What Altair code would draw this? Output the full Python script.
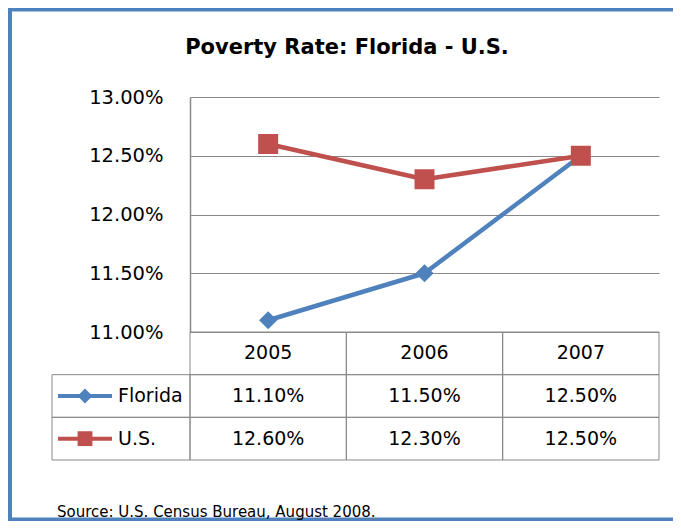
import altair as alt
import pandas as pd

# ---- data ----
years = ["2005", "2006", "2007"]
florida = [0.111, 0.115, 0.125]
us = [0.126, 0.123, 0.125]
series_names = ["Florida", "U.S."]
series_colors = ["#4F81BD", "#C0504D"]
series_shapes = ["diamond", "square"]
y_ticks = [0.11, 0.115, 0.12, 0.125, 0.13]
title_text = "Poverty Rate: Florida - U.S."
source_text = "Source: U.S. Census Bureau, August 2008."

FONT = "DejaVu Sans"
GRID = "#898989"
BORDER = "#4F81BD"

rows = []
for name, vals in zip(series_names, [florida, us]):
    for yr, v in zip(years, vals):
        rows.append({"year": yr, "series": name, "value": v})
df = pd.DataFrame(rows)

table_rows = ["hdr"] + series_names
cells = pd.DataFrame([{"year": yr, "row": r} for r in table_rows for yr in years])
header = pd.DataFrame({"year": years, "row": ["hdr"] * len(years)})
legend_df = pd.DataFrame({"series": series_names})

# ---- scales ----
x_scale = alt.Scale(domain=years, type="band", paddingInner=0, paddingOuter=0)
y_val = alt.Scale(domain=[0.11, 0.13], nice=False, zero=False)
y_tab = alt.Scale(domain=table_rows, type="band", range=[235, 363],
                  paddingInner=0, paddingOuter=0)
color = alt.Color("series:N", scale=alt.Scale(domain=series_names, range=series_colors), legend=None)
shape = alt.Shape("series:N", scale=alt.Scale(domain=series_names, range=series_shapes), legend=None)
xenc = alt.X("year:N", scale=x_scale, axis=None)

one = pd.DataFrame({"t": [0]})

# chart frame as thin filled bands (left, top, bottom; the right side runs off the page)
frame_left = alt.Chart(one).mark_rect(color=BORDER, strokeWidth=0).encode(
    x=alt.value(-182), x2=alt.value(-178), y=alt.value(-89), y2=alt.value(424)
)
frame_top = alt.Chart(one).mark_rect(color=BORDER, strokeWidth=0).encode(
    x=alt.value(-182), x2=alt.value(483), y=alt.value(-89), y2=alt.value(-85.5)
)
frame_bottom = alt.Chart(one).mark_rect(color=BORDER, strokeWidth=0).encode(
    x=alt.value(-182), x2=alt.value(483), y=alt.value(420.5), y2=alt.value(424)
)

title = alt.Chart(pd.DataFrame({"t": [title_text]})).mark_text(
    font=FONT, fontSize=21, fontWeight="bold", color="black", align="center", baseline="middle"
).encode(x=alt.value(157), y=alt.value(-49), text="t:N")

source = alt.Chart(pd.DataFrame({"t": [source_text]})).mark_text(
    font=FONT, fontSize=15, color="black", align="left", baseline="middle"
).encode(x=alt.value(-133), y=alt.value(415), text="t:N")

table_cells = alt.Chart(cells).mark_rect(fillOpacity=0, stroke=GRID, strokeWidth=1).encode(
    x=xenc, y=alt.Y("row:N", scale=y_tab, axis=None)
)

legend_cells = alt.Chart(legend_df).mark_rect(fillOpacity=0, stroke=GRID, strokeWidth=1).encode(
    x=alt.value(-138), x2=alt.value(0), y=alt.Y("series:N", scale=y_tab, axis=None)
)

lines = alt.Chart(df).mark_line(strokeWidth=4.5, strokeJoin="round").encode(
    x=xenc,
    y=alt.Y("value:Q", scale=y_val, axis=alt.Axis(
        values=y_ticks, format=".2%", grid=True, gridColor=GRID, gridWidth=1,
        domain=True, domainColor=GRID, domainWidth=1.5, ticks=False, tickSize=0,
        labelPadding=27, labelFont=FONT, labelFontSize=19.5, labelColor="black",
        title=None)),
    color=color,
)

points = alt.Chart(df).mark_point(filled=True, opacity=1).encode(
    x=xenc,
    y=alt.Y("value:Q", scale=y_val, axis=None),
    color=color,
    shape=shape,
    size=alt.Size("series:N", scale=alt.Scale(domain=series_names, range=[330, 400]), legend=None),
)

header_text = alt.Chart(header).mark_text(font=FONT, fontSize=19, color="black", baseline="middle").encode(
    x=xenc, y=alt.Y("row:N", scale=y_tab, axis=None), text="year:N"
)

value_text = alt.Chart(df).mark_text(font=FONT, fontSize=19, color="black", baseline="middle").encode(
    x=xenc, y=alt.Y("series:N", scale=y_tab, axis=None), text=alt.Text("value:Q", format=".2%")
)

swatch_line = alt.Chart(legend_df).mark_rule(strokeWidth=4).encode(
    x=alt.value(-132), x2=alt.value(-78), y=alt.Y("series:N", scale=y_tab, axis=None), color=color
)

swatch_pt = alt.Chart(legend_df).mark_point(filled=True, opacity=1, size=220).encode(
    x=alt.value(-105), y=alt.Y("series:N", scale=y_tab, axis=None), color=color, shape=shape
)

legend_text = alt.Chart(legend_df).mark_text(
    font=FONT, fontSize=19, color="black", align="left", baseline="middle"
).encode(x=alt.value(-72), y=alt.Y("series:N", scale=y_tab, axis=None), text="series:N")

chart = alt.layer(
    frame_left, frame_top, frame_bottom, table_cells, legend_cells, lines, points,
    header_text, value_text, swatch_line, swatch_pt, legend_text, title, source
).resolve_scale(y="independent").properties(
    width=469, height=235,
    padding={"left": 182, "top": 89, "right": 14, "bottom": 189},
    autosize=alt.AutoSizeParams(type="none"),
    background="white",
).configure_view(stroke=None)

chart.save("out.html", embed_options={"renderer": "svg", "actions": False})
